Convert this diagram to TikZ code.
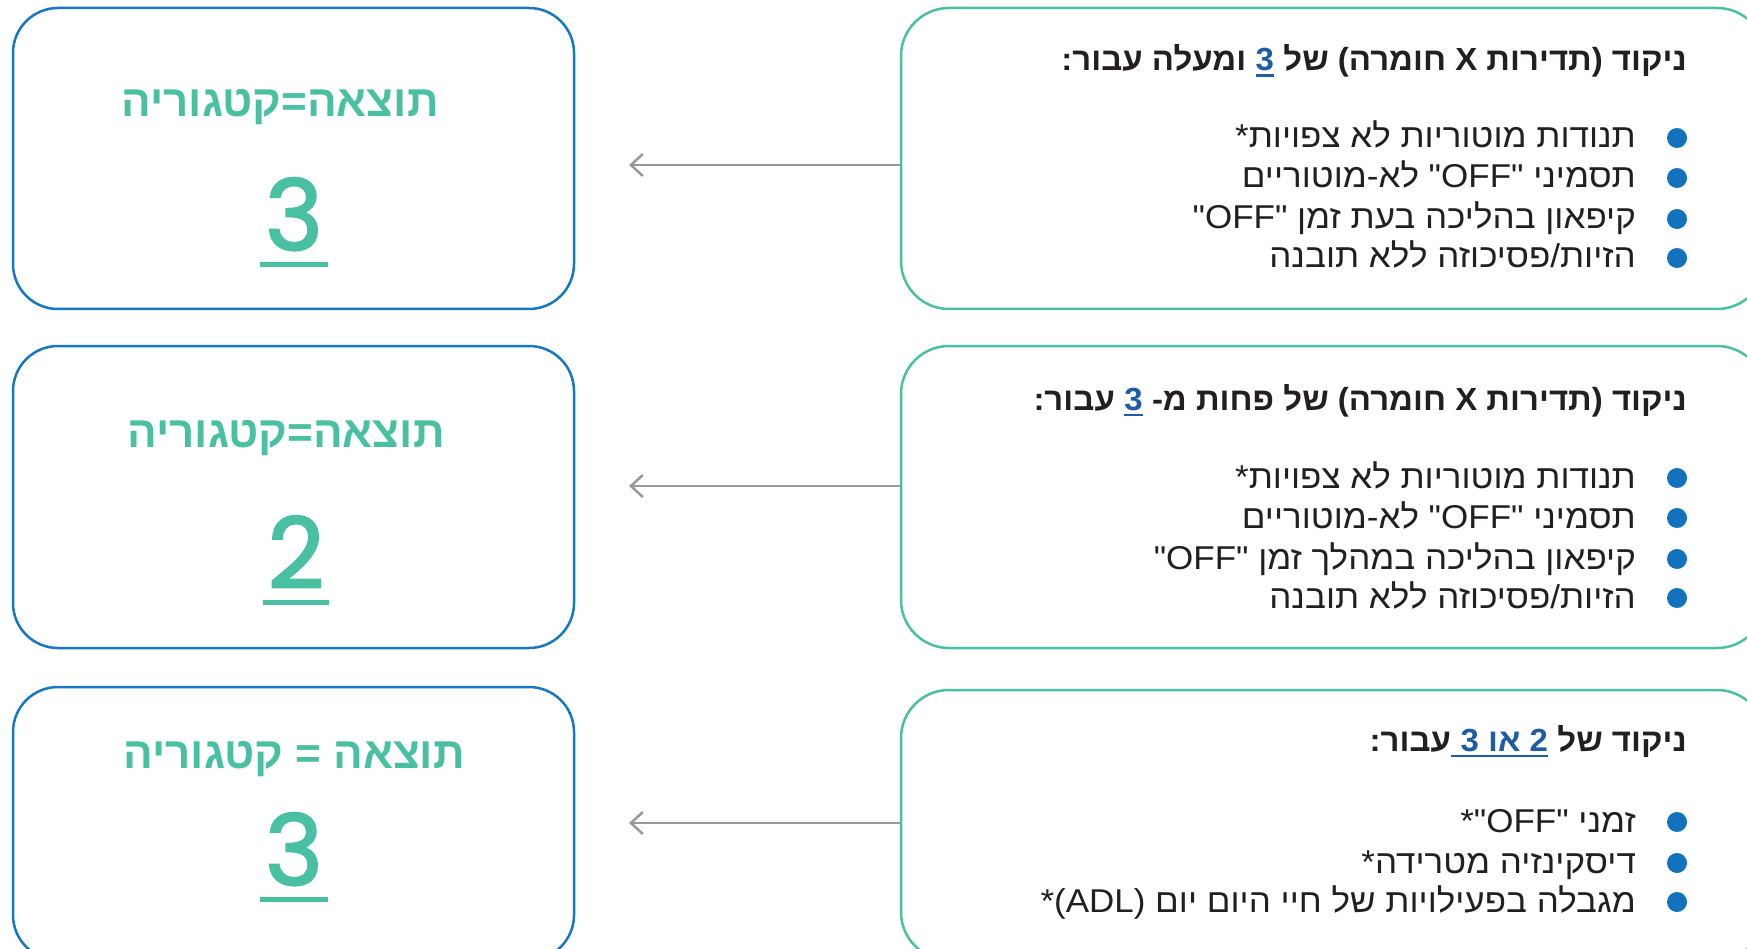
\documentclass[tikz,border=0pt]{standalone}
\usepackage{fontspec}
\usetikzlibrary{arrows.meta}
\TeXXeTstate=1
\newfontfamily\hebtitle[Script=Hebrew,FakeStretch=1.03]{Liberation Sans}
\newfontfamily\hebtext[Script=Hebrew,FakeStretch=1.06]{Liberation Sans}
\newfontfamily\hebleft[Script=Hebrew]{Liberation Sans}
\newfontfamily\dig[FakeBold=2.2]{Poppins}
\definecolor{teal}{RGB}{74,192,162}
\definecolor{bblue}{RGB}{22,119,196}
\definecolor{dotblue}{RGB}{18,114,190}
\definecolor{numblue}{RGB}{28,93,166}
\definecolor{arrgray}{RGB}{153,153,153}
\definecolor{ink}{RGB}{35,31,32}
% underline helpers (no colour change inside; the node's text colour is used)
\newcommand\tul[1]{\setbox0\hbox{#1}\hbox{\rlap{\raisebox{-6pt}{\rule{\wd0}{2.5pt}}}\box0}}
\newcommand\bigul[1]{\setbox0\hbox{#1}\hbox{\rlap{\hspace{-5pt}\raisebox{-17pt}{\rule{\dimexpr\wd0+10pt\relax}{5pt}}}\box0}}
\tikzset{
  lbox/.style={draw=bblue, line width=2.5pt, rounded corners=45pt, minimum width=561pt},
  rbox/.style={draw=teal, line width=2.5pt, rounded corners=48pt, minimum width=864pt},
  ltitle/.style={anchor=base, inner sep=0pt, text=teal, font=\hebleft\bfseries\fontsize{44}{52}\selectfont},
  bignum/.style={anchor=base, inner sep=0pt, text=teal, font=\dig\fontsize{98}{110}\selectfont},
  rtitle/.style={anchor=base east, inner sep=0pt, text=ink, font=\hebtitle\bfseries\fontsize{32}{38}\selectfont},
  rnum/.style={rtitle, text=numblue},
  btxt/.style={anchor=base east, inner sep=0pt, text=ink, font=\hebtext\fontsize{33}{39}\selectfont},
  dot/.style={circle, fill=dotblue, minimum size=20pt, inner sep=0pt},
  arr/.style={draw=arrgray, line width=2.5pt, -{Straight Barb[length=12pt,width=22pt]}}
}
\newcommand\bl[3]{%
  \node[btxt] (#1) at (1636,#2) {#3};
  \node[dot] (#1d) at (1677,{#2-10}) {};}
\begin{document}
\begin{tikzpicture}[x=1pt,y=-1pt]
\useasboundingbox (0,0) rectangle (1747,949);
% left boxes
\node[lbox, minimum height=301pt] (L1) at (293.5,158.5) {};
\node[lbox, minimum height=302pt] (L2) at (293.5,497) {};
\node[lbox, minimum height=273pt] (L3) at (293.5,823.5) {};
% right boxes
\node[rbox, minimum height=301pt] (R1) at (1333,158.5) {};
\node[rbox, minimum height=302pt] (R2) at (1333,497) {};
\node[rbox, minimum height=270pt] (R3) at (1333,825) {};
% left texts
\node[ltitle] (lt1) at (280,117) {\beginR תוצאה=קטגוריה\endR};
\node[bignum] (n1) at (294,250) {\bigul{3}};
\node[ltitle] (lt2) at (286,447) {\beginR תוצאה=קטגוריה\endR};
\node[bignum] (n2) at (296,588) {\bigul{2}};
\node[ltitle] (lt3) at (294,768) {\beginR תוצאה = קטגוריה\endR};
\node[bignum] (n3) at (294,885) {\bigul{3}};
% right titles (set in pieces, right to left)
\node[rtitle] (rt1a) at (1687,71) {\beginR ניקוד (תדירות X חומרה) של\endR};
\node[rnum] (rt1b) at ([xshift=-9pt]rt1a.base west) {\tul{3}};
\node[rtitle] (rt1c) at ([xshift=-9pt]rt1b.base west) {\beginR ומעלה עבור:\endR};
\node[rtitle] (rt2a) at (1687,410) {\beginR ניקוד (תדירות X חומרה) של פחות מ-\endR};
\node[rnum] (rt2b) at ([xshift=-9pt]rt2a.base west) {\tul{3}};
\node[rtitle] (rt2c) at ([xshift=-9pt]rt2b.base west) {\beginR עבור:\endR};
\node[rtitle] (rt3a) at (1687,751) {\beginR ניקוד של\endR};
\node[rnum] (rt3b) at ([xshift=-9pt]rt3a.base west) {\tul{\beginR 2 או 3\ \endR}};
\node[rtitle] (rt3c) at (rt3b.base west) {\beginR עבור:\endR};
% bullet lines
\bl{a1}{148}{\beginR תנודות מוטוריות לא צפויות*\endR}
\bl{a2}{188}{\beginR תסמיני "OFF" לא-מוטוריים\endR}
\bl{a3}{229}{\beginR קיפאון בהליכה בעת זמן "OFF"\endR}
\bl{a4}{268}{\beginR הזיות/פסיכוזה ללא תובנה\endR}
\bl{b1}{488}{\beginR תנודות מוטוריות לא צפויות*\endR}
\bl{b2}{528}{\beginR תסמיני "OFF" לא-מוטוריים\endR}
\bl{b3}{569}{\beginR קיפאון בהליכה במהלך זמן "OFF"\endR}
\bl{b4}{608}{\beginR הזיות/פסיכוזה ללא תובנה\endR}
\bl{c1}{832}{\beginR זמני "OFF"\kern0pt*\endR}
\bl{c2}{873}{\beginR דיסקינזיה מטרידה*\endR}
\bl{c3}{912}{\beginR מגבלה בפעילויות של חיי היום יום (ADL)\kern0pt*\endR}
% arrows
\coordinate (e1) at (629,165);
\coordinate (e2) at (629,486);
\coordinate (e3) at (629,823);
\draw[arr] (R1.west |- e1) -- (e1);
\draw[arr] (R2.west |- e2) -- (e2);
\draw[arr] (R3.west |- e3) -- (e3);
\end{tikzpicture}
\end{document}
